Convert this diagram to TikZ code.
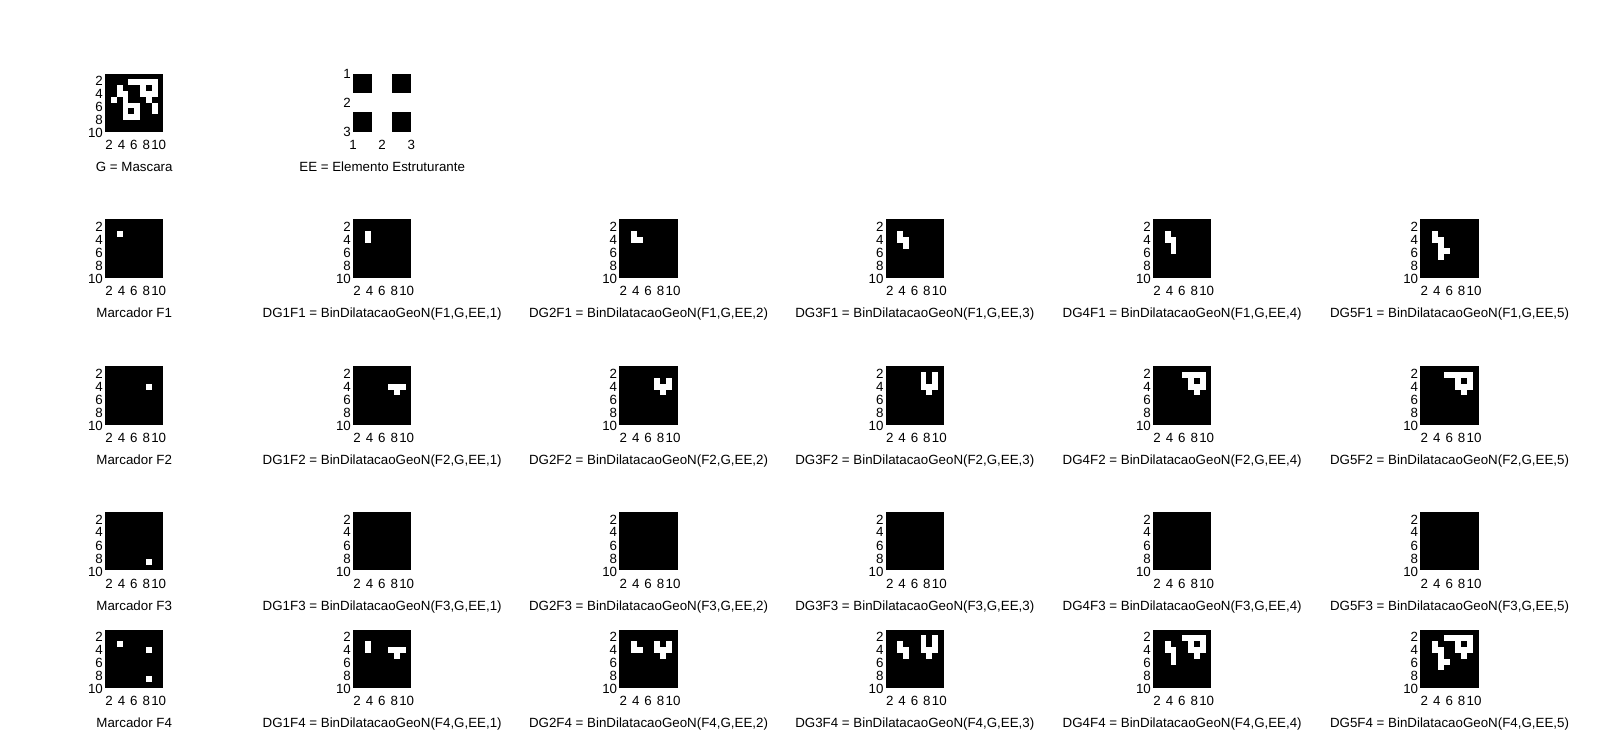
\documentclass[tikz,border=0pt]{standalone}
\usepackage{fontspec}
\setmainfont{Liberation Sans}
\tikzset{
  tick/.style={font=\fontsize{10}{12}\selectfont, inner sep=0pt},
  ytick/.style={tick, anchor=east},
  xtick/.style={tick, anchor=base},
  caption/.style={font=\fontsize{10}{12}\selectfont, inner sep=0pt, anchor=base},
  pix/.style={fill=white},
  frame/.style={fill=black},
}
% frame + ticks of a 10x10 image: name, x0, y0
\newcommand{\binimg}[3]{%
  \fill[frame] (#2,#3) rectangle ++(58.2,58.2);
  \foreach \t in {2,4,6,8,10} {
    \node[ytick] (#1y\t) at ({#2-2},{#3+7.2+(\t-2)*6.5}) {\t};
    \node[xtick] (#1x\t) at ({#2+4+(\t-2)*6.2},{#3+58.2+17.6}) {\t};
  }
}
% white pixels: x0, y0, list r/c
\newcommand{\whites}[3]{%
  \foreach \r/\c in #3 {\fill[pix] ({#1+(\c-1)*5.82-0.05},{#2+(\r-1)*5.82-0.05}) rectangle ++(5.92,5.92);}
}
\newcommand{\capt}[4]{\node[caption] (#1) at ({#2+29.1},{#3+58.2+40}) {#4};}
\def\Glist{2/5,2/6,2/7,2/8,2/9,3/3,3/7,3/9,4/3,4/4,4/7,4/8,4/9,5/2,5/4,5/8,6/4,6/5,6/6,6/9,7/4,7/6,7/9,8/4,8/5,8/6}
\def\LA{3/3,4/3}
\def\LB{3/3,4/3,4/4}
\def\LC{3/3,4/3,4/4,5/4}
\def\LD{3/3,4/3,4/4,5/4,6/4}
\def\LE{3/3,4/3,4/4,5/4,6/4,7/4,6/5}
\def\MA{4/8,5/8,4/7,4/9}
\def\MB{4/8,5/8,4/7,4/9,3/7,3/9}
\def\MC{4/8,5/8,4/7,4/9,3/7,3/9,2/7,2/9}
\def\MD{4/8,5/8,4/7,4/9,3/7,3/9,2/7,2/9,2/6,2/8}
\def\ME{4/8,5/8,4/7,4/9,3/7,3/9,2/7,2/9,2/6,2/8,2/5}
\edef\NA{\LA,\MA}
\edef\NB{\LB,\MB}
\edef\NC{\LC,\MC}
\edef\ND{\LD,\MD}
\edef\NE{\LE,\ME}
\begin{document}
\begin{tikzpicture}[x=0.75pt,y=-0.75pt]
\fill[white] (0,0) rectangle (1600,733);
\useasboundingbox (0,0) rectangle (1600,733);
% columns x0
\def\cA{105.1}\def\cB{353.1}\def\cC{619.4}\def\cD{885.7}\def\cE{1153.1}\def\cF{1420.4}
% rows y0
\def\rA{73.5}\def\rB{219.4}\def\rC{366.3}\def\rD{512.2}\def\rE{629.6}
% ---- row 1: G and EE
\binimg{g}{\cA}{\rA}
\whites{\cA}{\rA}{\Glist}
\capt{capG}{\cA}{\rA}{G = Mascara}
% EE
\fill[frame] (\cB,\rA) rectangle ++(58.2,58.2);
\foreach \r/\c in {1/2,2/1,2/2,2/3,3/2} {\fill[pix] ({\cB+(\c-1)*19.4-0.05},{\rA+(\r-1)*19.4-0.05}) rectangle ++(19.5,19.5);}
\foreach \t in {1,2,3} {
  \node[ytick] (eey\t) at ({\cB-2},{\rA+(\t-1)*29.1}) {\t};
  \node[xtick] (eex\t) at ({\cB+(\t-1)*29.1},{\rA+58.2+17.6}) {\t};
}
\capt{capEE}{\cB}{\rA}{EE = Elemento Estruturante}
% ---- row 2: F1
\binimg{fa}{\cA}{\rB}\whites{\cA}{\rB}{{3/3}}\capt{capFa}{\cA}{\rB}{Marcador F1}
\binimg{fa1}{\cB}{\rB}\whites{\cB}{\rB}{\LA}\capt{capFa1}{\cB}{\rB}{DG1F1 = BinDilatacaoGeoN(F1,G,EE,1)}
\binimg{fa2}{\cC}{\rB}\whites{\cC}{\rB}{\LB}\capt{capFa2}{\cC}{\rB}{DG2F1 = BinDilatacaoGeoN(F1,G,EE,2)}
\binimg{fa3}{\cD}{\rB}\whites{\cD}{\rB}{\LC}\capt{capFa3}{\cD}{\rB}{DG3F1 = BinDilatacaoGeoN(F1,G,EE,3)}
\binimg{fa4}{\cE}{\rB}\whites{\cE}{\rB}{\LD}\capt{capFa4}{\cE}{\rB}{DG4F1 = BinDilatacaoGeoN(F1,G,EE,4)}
\binimg{fa5}{\cF}{\rB}\whites{\cF}{\rB}{\LE}\capt{capFa5}{\cF}{\rB}{DG5F1 = BinDilatacaoGeoN(F1,G,EE,5)}
% ---- row 3: F2
\binimg{fb}{\cA}{\rC}\whites{\cA}{\rC}{{4/8}}\capt{capFb}{\cA}{\rC}{Marcador F2}
\binimg{fb1}{\cB}{\rC}\whites{\cB}{\rC}{\MA}\capt{capFb1}{\cB}{\rC}{DG1F2 = BinDilatacaoGeoN(F2,G,EE,1)}
\binimg{fb2}{\cC}{\rC}\whites{\cC}{\rC}{\MB}\capt{capFb2}{\cC}{\rC}{DG2F2 = BinDilatacaoGeoN(F2,G,EE,2)}
\binimg{fb3}{\cD}{\rC}\whites{\cD}{\rC}{\MC}\capt{capFb3}{\cD}{\rC}{DG3F2 = BinDilatacaoGeoN(F2,G,EE,3)}
\binimg{fb4}{\cE}{\rC}\whites{\cE}{\rC}{\MD}\capt{capFb4}{\cE}{\rC}{DG4F2 = BinDilatacaoGeoN(F2,G,EE,4)}
\binimg{fb5}{\cF}{\rC}\whites{\cF}{\rC}{\ME}\capt{capFb5}{\cF}{\rC}{DG5F2 = BinDilatacaoGeoN(F2,G,EE,5)}
% ---- row 4: F3
\binimg{fc}{\cA}{\rD}\whites{\cA}{\rD}{{9/8}}\capt{capFc}{\cA}{\rD}{Marcador F3}
\binimg{fc1}{\cB}{\rD}\capt{capFc1}{\cB}{\rD}{DG1F3 = BinDilatacaoGeoN(F3,G,EE,1)}
\binimg{fc2}{\cC}{\rD}\capt{capFc2}{\cC}{\rD}{DG2F3 = BinDilatacaoGeoN(F3,G,EE,2)}
\binimg{fc3}{\cD}{\rD}\capt{capFc3}{\cD}{\rD}{DG3F3 = BinDilatacaoGeoN(F3,G,EE,3)}
\binimg{fc4}{\cE}{\rD}\capt{capFc4}{\cE}{\rD}{DG4F3 = BinDilatacaoGeoN(F3,G,EE,4)}
\binimg{fc5}{\cF}{\rD}\capt{capFc5}{\cF}{\rD}{DG5F3 = BinDilatacaoGeoN(F3,G,EE,5)}
% ---- row 5: F4
\binimg{fd}{\cA}{\rE}\whites{\cA}{\rE}{{3/3,4/8,9/8}}\capt{capFd}{\cA}{\rE}{Marcador F4}
\binimg{fd1}{\cB}{\rE}\whites{\cB}{\rE}{\NA}\capt{capFd1}{\cB}{\rE}{DG1F4 = BinDilatacaoGeoN(F4,G,EE,1)}
\binimg{fd2}{\cC}{\rE}\whites{\cC}{\rE}{\NB}\capt{capFd2}{\cC}{\rE}{DG2F4 = BinDilatacaoGeoN(F4,G,EE,2)}
\binimg{fd3}{\cD}{\rE}\whites{\cD}{\rE}{\NC}\capt{capFd3}{\cD}{\rE}{DG3F4 = BinDilatacaoGeoN(F4,G,EE,3)}
\binimg{fd4}{\cE}{\rE}\whites{\cE}{\rE}{\ND}\capt{capFd4}{\cE}{\rE}{DG4F4 = BinDilatacaoGeoN(F4,G,EE,4)}
\binimg{fd5}{\cF}{\rE}\whites{\cF}{\rE}{\NE}\capt{capFd5}{\cF}{\rE}{DG5F4 = BinDilatacaoGeoN(F4,G,EE,5)}
\end{tikzpicture}
\end{document}
